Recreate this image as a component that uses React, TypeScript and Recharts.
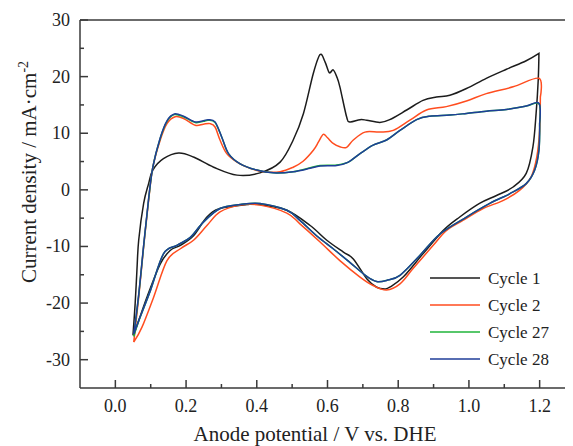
import React from 'react'
import { LineChart, Line, XAxis, YAxis, Legend, Label } from 'recharts'

// potentials (V vs. DHE) and current densities (mA/cm2), read along each loop
const cycle1V = [0.05, 0.056, 0.061, 0.066, 0.08, 0.094, 0.106, 0.136, 0.179, 0.221, 0.278, 0.344, 0.409, 0.466, 0.503, 0.532, 0.56, 0.579, 0.593, 0.605, 0.616, 0.626, 0.635, 0.654, 0.663, 0.692, 0.711, 0.748, 0.776, 0.824, 0.87, 0.908, 0.946, 0.993, 1.049, 1.106, 1.162, 1.198,
  1.196, 1.19, 1.181, 1.162, 1.125, 1.078, 1.03, 0.974, 0.927, 0.87, 0.814, 0.776, 0.762, 0.739, 0.711, 0.673, 0.645, 0.598, 0.551, 0.485, 0.409, 0.372, 0.296, 0.259, 0.221, 0.184, 0.155, 0.127, 0.089, 0.056, 0.05]
const cycle1J = [-25.5, -20.1, -14.2, -8.9, -2.4, 1.1, 3.5, 5.5, 6.5, 5.8, 4.0, 2.6, 3.0, 4.9, 8.8, 13.5, 20.6, 23.9, 22.6, 20.7, 21.2, 20.0, 18.2, 12.9, 12.0, 12.4, 12.3, 11.9, 12.4, 14.1, 15.8, 16.4, 16.7, 17.9, 19.7, 21.3, 22.8, 24.1,
  19.4, 13.5, 7.6, 2.9, 0.5, -1.0, -2.4, -4.8, -7.2, -11.3, -15.4, -17.2, -17.5, -17.2, -15.7, -12.2, -11.0, -8.9, -6.3, -3.6, -2.6, -2.6, -3.3, -4.8, -8.1, -9.8, -10.7, -13.1, -19.0, -24.9, -25.5]

const cycle2V = [0.052, 0.066, 0.08, 0.094, 0.106, 0.127, 0.146, 0.169, 0.193, 0.226, 0.249, 0.268, 0.282, 0.296, 0.315, 0.344, 0.381, 0.419, 0.466, 0.503, 0.53, 0.56, 0.575, 0.588, 0.6, 0.616, 0.635, 0.654, 0.673, 0.706, 0.748, 0.786, 0.833, 0.88, 0.936, 0.993, 1.049, 1.125, 1.198,
  1.202, 1.2, 1.192, 1.176, 1.143, 1.096, 1.04, 0.983, 0.936, 0.899, 0.842, 0.805, 0.767, 0.729, 0.692, 0.635, 0.579, 0.522, 0.485, 0.409, 0.353, 0.296, 0.259, 0.221, 0.184, 0.146, 0.108, 0.075, 0.052]
const cycle2J = [-26.9, -19.0, -10.1, -1.9, 4.0, 8.8, 11.7, 12.9, 12.6, 11.4, 11.6, 11.7, 11.1, 8.8, 6.4, 4.9, 3.8, 3.2, 3.2, 4.0, 5.0, 7.0, 8.5, 9.8, 9.2, 8.2, 7.6, 7.5, 8.8, 10.2, 10.2, 10.5, 12.3, 14.1, 14.7, 15.7, 17.0, 18.2, 19.7,
  16.4, 10.5, 5.8, 2.3, -0.1, -1.9, -3.3, -5.4, -7.2, -9.8, -13.9, -16.6, -17.7, -16.9, -15.4, -12.5, -9.2, -6.0, -4.1, -2.7, -2.7, -3.9, -6.3, -8.9, -10.4, -12.5, -19.0, -24.3, -26.9]

const cycle27V = [0.052, 0.066, 0.08, 0.094, 0.106, 0.127, 0.146, 0.167, 0.193, 0.226, 0.249, 0.263, 0.282, 0.301, 0.32, 0.353, 0.4, 0.447, 0.503, 0.551, 0.579, 0.626, 0.659, 0.692, 0.729, 0.767, 0.805, 0.852, 0.889, 0.946, 0.993, 1.049, 1.106, 1.162, 1.198,
  1.2, 1.198, 1.186, 1.162, 1.115, 1.059, 0.993, 0.918, 0.861, 0.805, 0.767, 0.739, 0.711, 0.663, 0.616, 0.569, 0.522, 0.485, 0.409, 0.353, 0.296, 0.249, 0.212, 0.174, 0.136, 0.099, 0.066, 0.052]
const cycle27J = [-25.9, -18.6, -9.9, -1.7, 4.0, 9.1, 12.1, 13.3, 12.9, 11.9, 12.1, 12.3, 11.9, 9.3, 6.4, 4.6, 3.5, 3.0, 3.2, 3.9, 4.3, 4.4, 4.9, 6.4, 7.9, 8.8, 10.5, 12.4, 13.0, 13.2, 13.5, 13.9, 14.2, 14.8, 15.2,
  11.7, 7.0, 3.5, 1.1, -0.7, -2.4, -4.8, -7.8, -11.6, -15.1, -16.0, -16.2, -15.3, -12.8, -10.4, -8.1, -5.4, -3.6, -2.4, -2.6, -3.3, -5.7, -8.4, -9.8, -11.3, -17.8, -23.2, -25.9]

const cycle28V = [0.052, 0.066, 0.08, 0.094, 0.106, 0.127, 0.146, 0.167, 0.193, 0.226, 0.249, 0.263, 0.282, 0.301, 0.32, 0.353, 0.4, 0.447, 0.503, 0.551, 0.579, 0.626, 0.659, 0.692, 0.729, 0.767, 0.805, 0.852, 0.889, 0.946, 0.993, 1.049, 1.106, 1.162, 1.198,
  1.2, 1.198, 1.186, 1.162, 1.115, 1.059, 0.993, 0.918, 0.861, 0.805, 0.767, 0.739, 0.711, 0.663, 0.616, 0.569, 0.522, 0.485, 0.409, 0.353, 0.296, 0.249, 0.212, 0.174, 0.136, 0.099, 0.066, 0.052]
const cycle28J = [-25.5, -18.5, -9.8, -1.6, 4.0, 9.2, 12.2, 13.4, 13.0, 12.0, 12.2, 12.4, 12.0, 9.3, 6.4, 4.6, 3.5, 3.0, 3.2, 3.8, 4.2, 4.3, 4.9, 6.4, 7.9, 8.8, 10.5, 12.4, 13.0, 13.2, 13.5, 13.9, 14.2, 14.8, 15.3,
  11.7, 7.0, 3.5, 1.1, -0.7, -2.4, -4.8, -7.8, -11.6, -15.1, -16.0, -16.2, -15.3, -12.8, -10.4, -8.1, -5.4, -3.6, -2.4, -2.6, -3.3, -5.7, -8.4, -9.8, -11.3, -17.8, -23.1, -25.5]

const xTicks = [0, 0.1, 0.2, 0.3, 0.4, 0.5, 0.6, 0.7, 0.8, 0.9, 1.0, 1.1, 1.2]
const yTicks = [-30, -25, -20, -15, -10, -5, 0, 5, 10, 15, 20, 25, 30]

const series = [
  { name: 'Cycle 1', v: cycle1V, j: cycle1J, color: '#1c1c1c' },
  { name: 'Cycle 2', v: cycle2V, j: cycle2J, color: '#ff4d1f' },
  { name: 'Cycle 27', v: cycle27V, j: cycle27J, color: '#1fb53a' },
  { name: 'Cycle 28', v: cycle28V, j: cycle28J, color: '#1f3d99' },
]

const FONT = "'Liberation Serif', 'Times New Roman', serif"
const AXIS = '#3a3a3a'
const txt = { fontFamily: FONT, fill: '#222' }

// smooth loop (Catmull-Rom), keeps a sharp corner at the switching potential
const loopCurve = (ctx: any) => {
  let pts: number[][] = []
  return {
    areaStart() {}, areaEnd() {},
    lineStart() { pts = [] },
    point(x: number, y: number) { pts.push([+x, +y]) },
    lineEnd() {
      const n = pts.length
      if (!n) return
      let turn = 0
      pts.forEach((p, i) => { if (p[0] > pts[turn][0]) turn = i })
      const tan = (i: number) => {
        if (i === 0 || i === n - 1 || i === turn) return [0, 0]
        return [(pts[i + 1][0] - pts[i - 1][0]) / 6, (pts[i + 1][1] - pts[i - 1][1]) / 6]
      }
      ctx.moveTo(pts[0][0], pts[0][1])
      for (let i = 0; i < n - 1; i++) {
        const a = tan(i), b = tan(i + 1)
        ctx.bezierCurveTo(pts[i][0] + a[0], pts[i][1] + a[1], pts[i + 1][0] - b[0], pts[i + 1][1] - b[1], pts[i + 1][0], pts[i + 1][1])
      }
    },
  }
}

const isMajorX = (v: number) => Math.round(v * 10) % 2 === 0
const isMajorY = (v: number) => Math.round(v) % 10 === 0

function BottomTick({ x, y, payload }: any) {
  const major = isMajorX(payload.value)
  return (
    <g>
      <line x1={x} x2={x} y1={y} y2={y - (major ? 8 : 4)} stroke={AXIS} strokeWidth={1.5} />
      {major && (
        <text x={x} y={y + 24} textAnchor="middle" fontSize={18} style={txt}>
          {payload.value.toFixed(1)}
        </text>
      )}
    </g>
  )
}

function TopTick({ x, y }: any) {
  return <line x1={x} x2={x} y1={y} y2={y + 3} stroke={AXIS} strokeWidth={1.5} />
}

function LeftTick({ x, y, payload }: any) {
  const major = isMajorY(payload.value)
  return (
    <g>
      <line x1={x} x2={x + (major ? 8 : 4)} y1={y} y2={y} stroke={AXIS} strokeWidth={1.5} />
      {major && (
        <text x={x - 10} y={y + 6} textAnchor="end" fontSize={18} style={txt}>
          {payload.value}
        </text>
      )}
    </g>
  )
}

function LegendBox() {
  return (
    <svg width={140} height={110}>
      {series.map((s, i) => (
        <g key={s.name}>
          <line x1={0} x2={50} y1={14 + i * 27} y2={14 + i * 27} stroke={s.color} strokeWidth={1.5} />
          <text x={58} y={20 + i * 27} fontSize={17} style={txt}>{s.name}</text>
        </g>
      ))}
    </svg>
  )
}

export default function App() {
  return (
    <div style={{ width: 565, height: 438, overflow: 'hidden' }}>
      <LineChart width={567} height={438} margin={{ top: 11, right: 0, bottom: 28, left: 0 }}>
        <XAxis
          xAxisId="b" type="number" dataKey="v" domain={[-0.1, 1.3]} ticks={[...xTicks]}
          interval={0} height={30} tickSize={0} tickMargin={0}
          axisLine={{ stroke: AXIS, strokeWidth: 1.5 }} tickLine={false} tick={<BottomTick />}
        >
          <Label
            content={() => (
              <text x={307} y={433} textAnchor="middle" fontSize={21} style={txt}>
                Anode potential / V vs. DHE
              </text>
            )}
          />
        </XAxis>
        <XAxis
          xAxisId="t" orientation="top" type="number" dataKey="v" domain={[-0.1, 1.3]} ticks={[...xTicks]}
          interval={0} height={1} tickSize={0} tickMargin={0}
          axisLine={{ stroke: AXIS, strokeWidth: 1.5 }} tickLine={false} tick={<TopTick />}
        />
        <YAxis
          type="number" domain={[-35, 30]} ticks={yTicks} interval={0} width={72}
          tickSize={0} tickMargin={0} axisLine={{ stroke: AXIS, strokeWidth: 1.5 }} tickLine={false}
          tick={<LeftTick />}
        >
          <Label
            content={() => (
              <text x={28} y={164} transform="rotate(-90, 28, 164)" textAnchor="middle" fontSize={21} style={txt}>
                Current density / mA·cm<tspan dy={-8} fontSize={14}>-2</tspan>
              </text>
            )}
          />
        </YAxis>
        {series.map(s => (
          <Line
            key={s.name}
            xAxisId="b"
            name={s.name}
            data={s.v.map((v, i) => ({ v, j: s.j[i] }))}
            dataKey="j"
            type={loopCurve as any}
            stroke={s.color}
            strokeWidth={1.5}
            dot={false}
            isAnimationActive={false}
          />
        ))}
        <Legend
          layout="vertical" align="center" verticalAlign="middle"
          wrapperStyle={{ left: 422, top: 256, width: 140, height: 110 }}
          content={() => <LegendBox />}
        />
      </LineChart>
    </div>
  )
}
